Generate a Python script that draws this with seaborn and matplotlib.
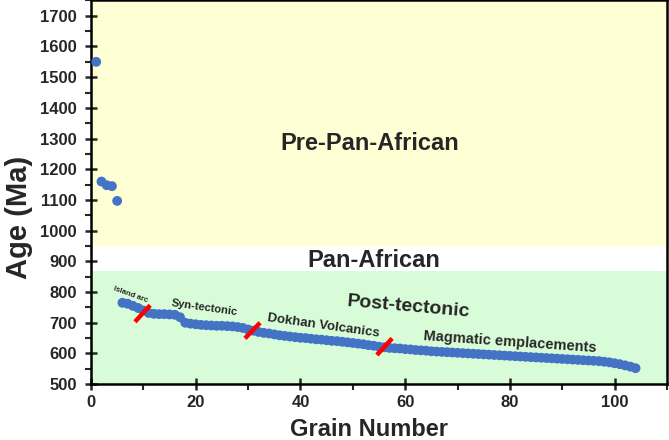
import numpy as np
import pandas as pd
import seaborn as sns
import matplotlib.pyplot as plt
from matplotlib.ticker import MultipleLocator

# grain ages (Ma)
grain = list(range(1, 105))
age = [1550, 1160, 1148, 1145, 1097,
       765, 762, 755, 748, 740, 732, 729, 728, 728, 727, 726, 718, 700, 697, 695,
       693, 692, 691, 690, 690, 689, 688, 686, 683, 678, 674, 670, 667, 665, 662,
       659, 657, 655, 653, 651, 650, 648, 646, 645, 643, 641, 640, 638, 636, 634,
       632, 630, 627, 625, 622, 620, 618, 617, 616, 614, 613, 611, 610, 609, 607,
       606, 605, 604, 603, 602, 601, 600, 599, 598, 597, 596, 595, 594, 593, 592,
       591, 590, 589, 588, 587, 586, 585, 584, 583, 582, 581, 580, 579, 578, 577,
       576, 575, 573, 571, 568, 565, 561, 557, 552]

# age bands
pre_band = (950, 1750)
post_band = (500, 870)

# red boundary slashes (x0, x1, y0, y1)
slash_x = [(8.4, 11.3), (29.4, 32.3), (54.6, 57.5)]
slash_y = [(703, 757), (649, 700), (595, 649)]

df = pd.DataFrame({"grain": grain, "age": age})

sns.set_style("ticks")
plt.rcParams['font.family'] = ['Liberation Sans', 'DejaVu Sans']

fig = plt.figure(figsize=(6.69, 4.4), dpi=100)
ax = fig.add_axes([0.136, 0.127, 0.861, 0.872])

ax.axhspan(*pre_band, color="#FFFFD6", zorder=0, lw=0)
ax.axhspan(*post_band, color="#D8FCD8", zorder=0, lw=0)

sns.scatterplot(data=df, x="grain", y="age", color="#4472C4", s=50,
                edgecolor="none", ax=ax, zorder=3)

for xs, ys in zip(slash_x, slash_y):
    ax.plot(xs, ys, color="red", lw=3.2, solid_capstyle="butt", zorder=4)

ax.text(53.3, 1284, "Pre-Pan-African", ha="center", va="center",
        fontsize=17, fontweight="bold")
ax.text(54, 902, "Pan-African", ha="center", va="center",
        fontsize=17, fontweight="bold")
ax.text(60.6, 751, "Post-tectonic", ha="center", va="center",
        fontsize=14, fontweight="bold", rotation=-5)
ax.text(7.5, 791, "Island arc", ha="center", va="center",
        fontsize=5.6, fontweight="bold", rotation=-20)
ax.text(21.7, 748, "Syn-tectonic", ha="center", va="center",
        fontsize=8, fontweight="bold", rotation=-8)
ax.text(44.4, 690, "Dokhan Volcanics", ha="center", va="center",
        fontsize=9.5, fontweight="bold", rotation=-8)
ax.text(80.1, 638, "Magmatic emplacements", ha="center", va="center",
        fontsize=10.5, fontweight="bold", rotation=-4)

ax.set_xlim(0, 110)
ax.set_ylim(500, 1750)
ax.xaxis.set_major_locator(MultipleLocator(20))
ax.xaxis.set_minor_locator(MultipleLocator(10))
ax.yaxis.set_major_locator(MultipleLocator(100))
ax.yaxis.set_minor_locator(MultipleLocator(50))
ax.tick_params(which="major", direction="inout", length=8, width=1.8,
               labelsize=12)
ax.tick_params(axis="y", which="major", pad=6)
ax.tick_params(which="minor", direction="out", length=4, width=1.5)
for lab in ax.get_xticklabels() + ax.get_yticklabels():
    lab.set_fontweight("bold")
for sp in ax.spines.values():
    sp.set_linewidth(1.8)
    sp.set_color("black")

ax.set_xlabel("Grain Number", fontsize=17, fontweight="bold")
ax.set_ylabel("Age (Ma)", fontsize=21, fontweight="bold")
ax.xaxis.set_label_coords(0.483, -0.088)
ax.yaxis.set_label_coords(-0.1, 0.435)

fig.savefig("out.png", dpi=100)
